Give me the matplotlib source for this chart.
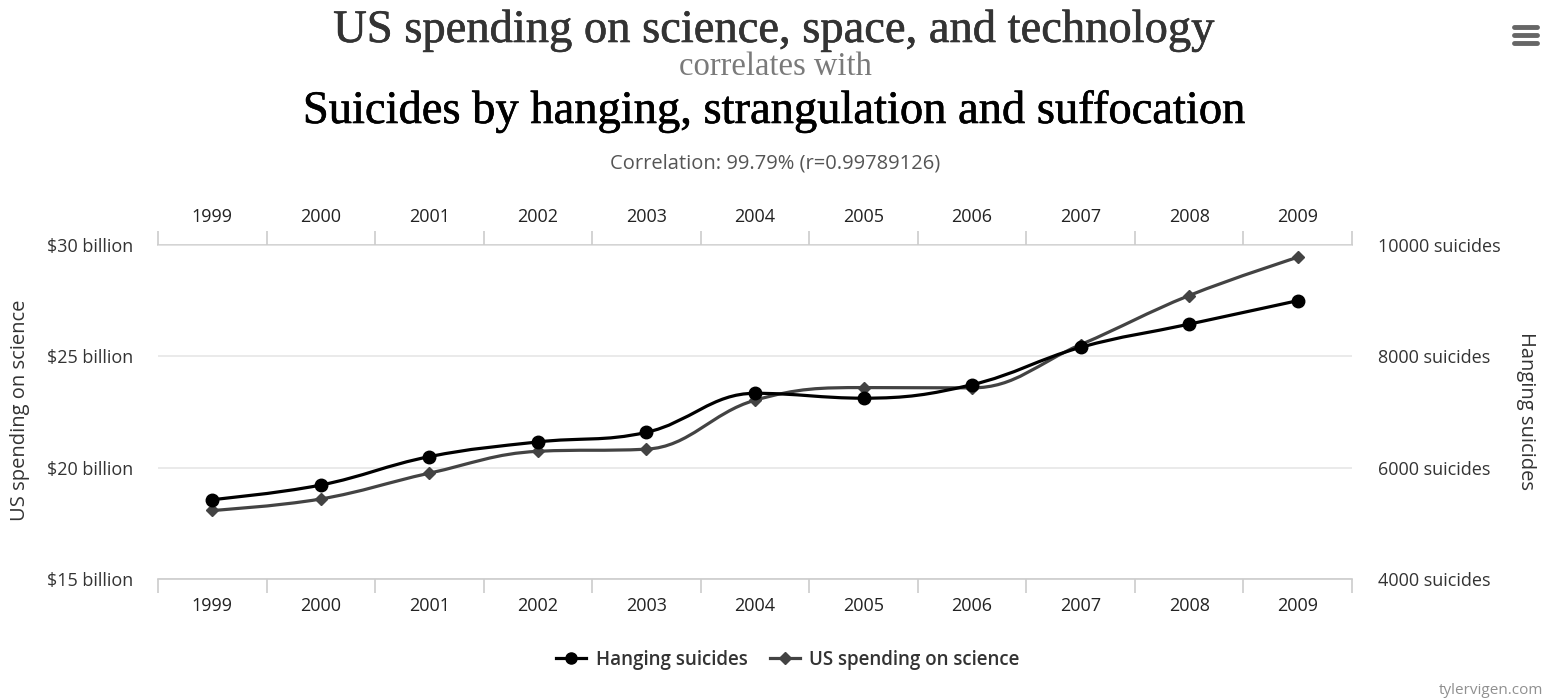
import matplotlib
matplotlib.use("Agg")
import matplotlib.pyplot as plt
from matplotlib.path import Path
from matplotlib.patches import PathPatch
from matplotlib.lines import Line2D
import matplotlib.patheffects as pe
import numpy as np

years = ["1999", "2000", "2001", "2002", "2003", "2004", "2005", "2006", "2007", "2008", "2009"]
spending_billion = [18.079, 18.594, 19.753, 20.734, 20.831, 23.029, 23.597, 23.584, 25.525, 27.731, 29.449]
hanging_suicides = [5427, 5688, 6198, 6462, 6635, 7336, 7248, 7491, 8161, 8578, 9000]
left_ticks = [15, 20, 25, 30]
right_ticks = [4000, 6000, 8000, 10000]

W, H = 1547, 700
fig = plt.figure(figsize=(W / 100, H / 100), dpi=100)
fig.patch.set_facecolor("white")

SANS = ["Open Sans", "DejaVu Sans"]
SERIF = ["Liberation Serif", "DejaVu Serif"]
TXT = "#333333"
GRID = "#e6e6e6"
AXC = "#cccccc"


def fx(px):
    return px / W


def fy(py):
    return 1 - py / H


x0, x1, ytop, ybot = 158, 1352, 245, 579
ax = fig.add_axes([fx(x0), fy(ybot), fx(x1) - fx(x0), fy(ytop) - fy(ybot)])
ax2 = ax.twinx()

xs = np.arange(len(years))


def spline_path(x, y):
    # Highcharts-style spline control points (smoothing 1.5), in data coordinates
    sm = 1.5
    den = sm + 1
    n = len(x)
    lc = [None] * n
    rc = [None] * n
    for i in range(n):
        if i == 0 or i == n - 1:
            lc[i] = (x[i], y[i])
            rc[i] = (x[i], y[i])
            continue
        lx, ly = x[i - 1], y[i - 1]
        nx, ny = x[i + 1], y[i + 1]
        px, py = x[i], y[i]
        lcx = (sm * px + lx) / den
        lcy = (sm * py + ly) / den
        rcx = (sm * px + nx) / den
        rcy = (sm * py + ny) / den
        if rcx != lcx:
            corr = ((rcy - lcy) * (rcx - px)) / (rcx - lcx) + py - rcy
            lcy += corr
            rcy += corr
        if lcy > ly and lcy > py:
            lcy = max(ly, py)
            rcy = 2 * py - lcy
        elif lcy < ly and lcy < py:
            lcy = min(ly, py)
            rcy = 2 * py - lcy
        if rcy > ny and rcy > py:
            rcy = max(ny, py)
            lcy = 2 * py - rcy
        elif rcy < ny and rcy < py:
            rcy = min(ny, py)
            lcy = 2 * py - rcy
        lc[i] = (lcx, lcy)
        rc[i] = (rcx, rcy)
    verts = [(x[0], y[0])]
    codes = [Path.MOVETO]
    for i in range(1, n):
        verts += [rc[i - 1], lc[i], (x[i], y[i])]
        codes += [Path.CURVE4] * 3
    return Path(verts, codes)


TICK_FS = 13

# axes styling
ax.set_xlim(-0.5, len(years) - 0.5)
ax.set_ylim(15, 30)
ax2.set_ylim(4000, 10000)
for a in (ax, ax2):
    for s in a.spines.values():
        s.set_visible(False)
ax.set_yticks(left_ticks)
ax.set_yticklabels([f"${v} billion" for v in left_ticks])
ax2.set_yticks(right_ticks)
ax2.set_yticklabels([f"{v} suicides" for v in right_ticks])
ax.tick_params(axis="y", length=0, pad=18, labelsize=TICK_FS, labelcolor=TXT)
ax2.tick_params(axis="y", length=0, pad=19, labelsize=TICK_FS, labelcolor=TXT)
for lab in ax.get_yticklabels() + ax2.get_yticklabels():
    lab.set_family(SANS)
ax.grid(axis="y", color=GRID, linewidth=1.2)
ax.set_axisbelow(True)

# x axes: top and bottom with category labels
ax.set_xticks(xs)
ax.set_xticklabels(years)
ax.set_xticks(np.arange(-0.5, len(years), 1.0), minor=True)
ax.tick_params(axis="x", which="major", length=0, pad=13, labelsize=TICK_FS, labelcolor="#222222",
               top=False, labeltop=False)
ax.tick_params(axis="x", which="minor", length=10, width=1.2, color=AXC, direction="out")
for lab in ax.get_xticklabels():
    lab.set_family(SANS)
ax.spines["bottom"].set_visible(True)
ax.spines["bottom"].set_color(AXC)
ax.spines["bottom"].set_linewidth(1.2)

axt = ax.secondary_xaxis("top")
axt.set_xticks(xs)
axt.set_xticklabels(years)
axt.set_xticks(np.arange(-0.5, len(years), 1.0), minor=True)
axt.tick_params(axis="x", which="major", length=0, pad=14, labelsize=TICK_FS, labelcolor="#222222")
axt.tick_params(axis="x", which="minor", length=10, width=1.2, color=AXC, direction="out")
axt.spines["top"].set_color(AXC)
axt.spines["top"].set_linewidth(1.2)
for lab in axt.get_xticklabels():
    lab.set_family(SANS)

# series
C_H = "#000000"
C_S = "#434343"
ax2.add_patch(PathPatch(spline_path(xs, hanging_suicides), facecolor="none",
                        edgecolor=C_H, linewidth=2.3, zorder=3, capstyle="round", joinstyle="round"))
ax.add_patch(PathPatch(spline_path(xs, spending_billion), facecolor="none",
                       edgecolor=C_S, linewidth=2.3, zorder=3, capstyle="round", joinstyle="round"))
ax.plot(xs, spending_billion, linestyle="none", marker="D", markersize=6.5, color=C_S, zorder=4)
ax2.plot(xs, hanging_suicides, linestyle="none", marker="o", markersize=9, color=C_H, zorder=5)
ax2.set_zorder(ax.get_zorder() + 1)
ax2.patch.set_visible(False)

# axis titles
fig.text(fx(20), fy(410), "US spending on science", rotation=90, ha="center", va="center",
         fontsize=14.5, color=TXT, family=SANS)
fig.text(fx(1526), fy(411), "Hanging suicides", rotation=270, ha="center", va="center",
         fontsize=14.5, color=TXT, family=SANS)


# titles
def heavy(c, w=0.45):
    return [pe.withStroke(linewidth=w, foreground=c)]


fig.text(fx(774), fy(42), "US spending on science, space, and technology", ha="center", va="baseline",
         fontsize=33.5, color="#333333", family=SERIF, path_effects=heavy("#333333"))
fig.text(fx(775), fy(75), "correlates with", ha="center", va="baseline",
         fontsize=23.5, color="#7a7a7a", family=SERIF)
fig.text(fx(774), fy(123), "Suicides by hanging, strangulation and suffocation", ha="center", va="baseline",
         fontsize=33.5, color="#000000", family=SERIF, path_effects=heavy("#000000"))
fig.text(fx(775), fy(164), "Correlation: 99.79% (r=0.99789126)", ha="center", va="center",
         fontsize=14.5, color="#555555", family=SANS)

# legend
h1 = Line2D([], [], color=C_H, marker="o", markersize=8, linewidth=2.3)
h2 = Line2D([], [], color=C_S, marker="D", markersize=6, linewidth=2.3)
leg = fig.legend([h1, h2], ["Hanging suicides", "US spending on science"], loc="center",
                 bbox_to_anchor=(fx(788), fy(660)), ncol=2, frameon=False, handlelength=1.6,
                 handletextpad=0.5, columnspacing=1.2,
                 prop={"family": SANS, "size": 13.5, "weight": "semibold"})
for t in leg.get_texts():
    t.set_color(TXT)

# credit
fig.text(fx(1543), fy(690), "tylervigen.com", ha="right", va="center", fontsize=11,
         color="#909090", family=SANS)

# menu icon
for yy in (27, 35, 43):
    fig.add_artist(Line2D([fx(1514), fx(1537)], [fy(yy), fy(yy)], color="#666666",
                          linewidth=3.5, solid_capstyle="round"))

fig.savefig("out.png", dpi=100, facecolor="white")
